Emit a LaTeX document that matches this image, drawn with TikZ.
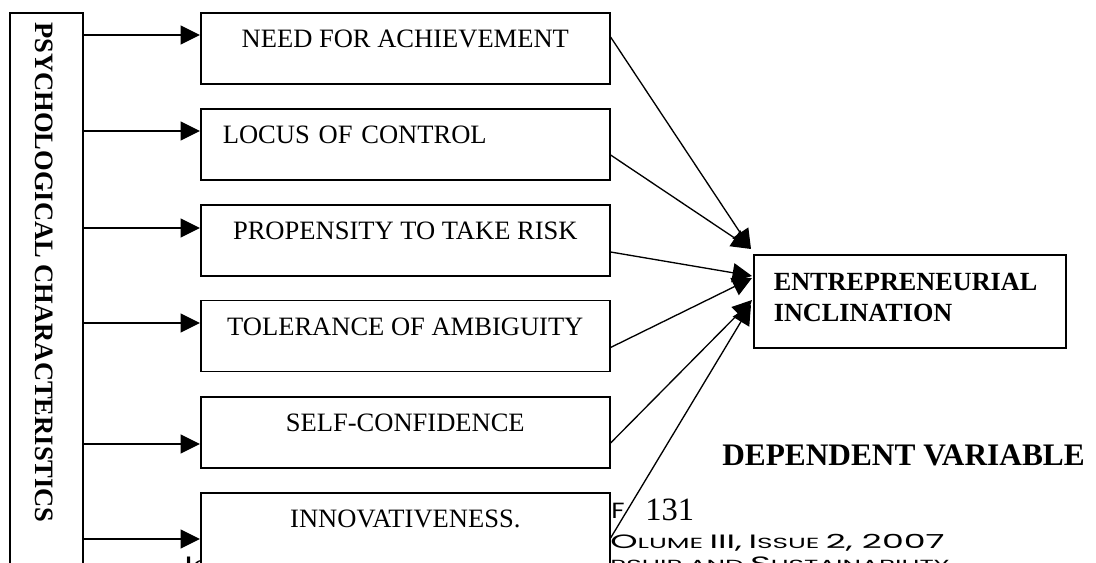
\documentclass[tikz,border=0pt]{standalone}
\usepackage{fontspec}
\setmainfont{Liberation Serif}
\newfontfamily\footfont[FakeStretch=1.8]{Poppins}
\newfontfamily\footfontF[FakeStretch=1.2]{Poppins}
\usetikzlibrary{arrows.meta,calc}

% small-caps look for the running footer
\newcommand\capbig[1]{{\fontsize{14.5pt}{17pt}\selectfont #1}}
\newcommand\capsmall[1]{{\fontsize{11pt}{13pt}\selectfont #1}}

\begin{document}
\begin{tikzpicture}[x=0.75pt,y=-0.75pt,
  conn/.style={line width=1pt,-{Triangle[length=14.6pt,width=14.3pt]}},
  factor/.style={draw, fill=white, line width=1.2pt, anchor=north west,
    minimum width=306.75pt, minimum height=53.25pt,
    inner xsep=0pt, inner ysep=0pt, text height=13pt, text depth=13.75pt,
    font=\fontsize{19.9pt}{23pt}\selectfont},
  outcome/.style={draw, fill=white, line width=1.2pt, anchor=north west,
    minimum width=234pt, minimum height=69.75pt,
    inner xsep=15pt, inner ysep=0pt, text width=204pt, align=left,
    text height=14pt, text depth=29.75pt,
    font=\bfseries\fontsize{19.65pt}{23pt}\selectfont},
  plain/.style={inner sep=0pt, anchor=base west},
  foot/.style={plain, font=\footfont}
]
\useasboundingbox (0,0) rectangle (1096,563);
\clip (0,0) rectangle (1096,563);

% running footer of the page, partly hidden by the boxes
\node[plain, font=\footfontF\fontsize{16.5pt}{19pt}\selectfont] (pgF) at (611,518) {F};
\node[plain, font=\fontsize{24.4pt}{28pt}\selectfont] (pgnum) at (645,520) {131};
\node[foot] (vol) at (610,548) {\capbig{O}\capsmall{LUME} \capbig{III,} \capbig{I}\capsmall{SSUE} \capbig{2, 2007}};
\node[foot] (jnA) at (175,570) {\capbig{J}\capsmall{O}};
\node[foot] (jnB) at (610,570) {\capsmall{RSHIP AND} \capbig{S}\capsmall{USTAINABILITY}};

% independent variable group
\node[draw, fill=white, line width=1.2pt, anchor=north west, inner sep=0pt,
      minimum width=54.75pt, minimum height=480pt] (psy) at (9,12) {};
\node[rotate=-90, inner sep=0pt, font=\bfseries\fontsize{19.9pt}{23pt}\selectfont]
  (psylabel) at (44.5,272.5) {PSYCHOLOGICAL CHARACTERISTICS};

% the six factors
\node[factor] (b1) at (200,12)  {NEED FOR ACHIEVEMENT};
\node[factor, align=left, text width=273.75pt, inner xsep=16.5pt] (b2) at (200,108) {LOCUS OF CONTROL};
\node[factor] (b3) at (200,204) {PROPENSITY TO TAKE RISK};
\node[factor] (b4) at (200,299.5) {TOLERANCE OF AMBIGUITY};
\node[factor] (b5) at (200,396) {SELF-CONFIDENCE};
\node[factor] (b6) at (200,492) {INNOVATIVENESS.};

% dependent variable
\node[outcome] (ei) at (753,254) {ENTREPRENEURIAL\\INCLINATION};
\node[plain, font=\bfseries\fontsize{23.5pt}{27pt}\selectfont] (dv) at (722,465) {DEPENDENT VARIABLE};

% entry points on the factor boxes
\coordinate (i1) at ($(b1.north west)+(0,23)$);
\coordinate (i2) at ($(b2.north west)+(0,23)$);
\coordinate (i3) at ($(b3.north west)+(0,24)$);
\coordinate (i4) at ($(b4.north west)+(0,23.5)$);
\coordinate (i5) at ($(b5.north west)+(0,48)$);
\coordinate (i6) at ($(b6.north west)+(0,47)$);

% exit points on the factor boxes
\coordinate (o1) at ($(b1.north east)+(0,25)$);
\coordinate (o2) at ($(b2.north east)+(0,47)$);
\coordinate (o3) at ($(b3.north east)+(0,48)$);
\coordinate (o4) at ($(b4.north east)+(0,48)$);
\coordinate (o5) at ($(b5.north east)+(0,47)$);
\coordinate (o6) at ($(b6.north east)+(0,46)$);

% arrow tips at the outcome box
\coordinate (t1) at ($(ei.north west)+(-2,-5)$);
\coordinate (t2) at ($(ei.north west)+(-2,-5)$);
\coordinate (t3) at ($(ei.north west)+(-1,22)$);
\coordinate (t4) at ($(ei.north west)+(-1,24)$);
\coordinate (t5) at ($(ei.north west)+(-1,46)$);
\coordinate (t6) at ($(ei.north west)+(-2,51)$);

\foreach \k in {1,...,6}{
  \draw[conn] (psy.east |- i\k) -- (i\k);
  \draw[conn] (o\k) -- (t\k);
}
\end{tikzpicture}
\end{document}
